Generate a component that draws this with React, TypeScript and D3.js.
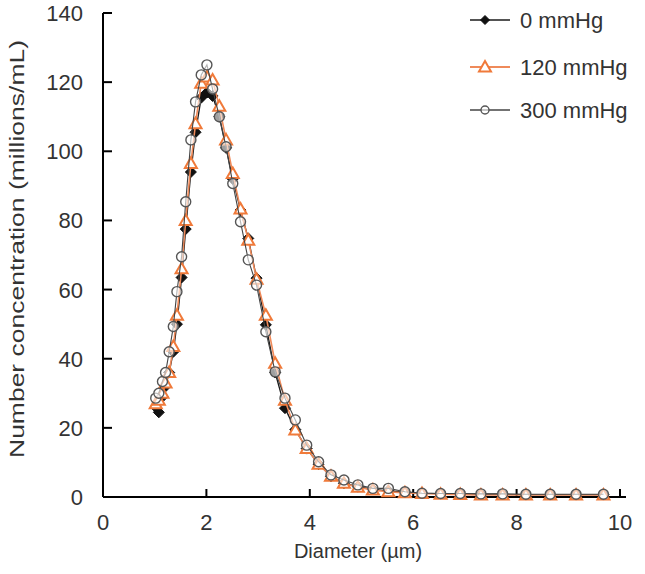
import React from "react";
import * as d3 from "d3";

const diameters = [1.02,1.08,1.15,1.21,1.28,1.36,1.43,1.52,1.60,1.70,1.79,1.90,2.01,2.12,2.25,2.38,2.51,2.66,2.81,2.97,3.15,3.33,3.52,3.72,3.94,4.17,4.41,4.66,4.93,5.22,5.52,5.84,6.17,6.53,6.91,7.31,7.73,8.18,8.65,9.15,9.68];
const p0 = [26,24.5,29,32,36,42,50,63.5,77.5,94,105.5,115.5,117,116,110,101,92,83,74.8,63.3,49.8,36,25.7,19.5,14,9.5,6,4,3,2.2,1.8,1.4,1.1,1,0.9,0.8,0.8,0.7,0.7,0.7,0.7];
const p120 = [27,28,30,33,36,43.5,52.6,66,80,96.5,108,119.7,121.5,120.6,113,103.3,93.6,83.3,74.3,63,52.6,38.7,28,19.4,14,9.5,6,4,2.8,2,1.5,1.2,1,0.8,0.7,0.6,0.6,0.6,0.6,0.6,0.6];
const p300 = [28.6,30,33.4,36,42,49.3,59.4,69.5,85.4,103.3,114.3,122.1,125,118,110,101.3,90.7,79.6,68.6,61.3,47.8,36.2,28.6,22.3,15,10.2,6.4,4.9,3.5,2.5,2.5,1.5,1.1,1,1,0.9,0.9,0.8,0.8,0.8,0.8];
const seriesNames = ["0 mmHg", "120 mmHg", "300 mmHg"];
const xTicks = [0, 2, 4, 6, 8, 10];
const yTicks = [0, 20, 40, 60, 80, 100, 120, 140];

const FONT = "'Liberation Sans', Arial, sans-serif";

export default function App() {
  const x = d3.scaleLinear().domain([0, 10]).range([103, 620]);
  const y = d3.scaleLinear().domain([0, 140]).range([497, 13]);
  const line = d3.line<number>().x((_, i) => x(diameters[i])).y((v) => y(v));

  const styles = [
    { data: p0, line: "#1a1a1a", width: 1.3 },
    { data: p120, line: "#ef8a5a", width: 1.6 },
    { data: p300, line: "#444", width: 1.1 },
  ];

  const marker = (k: number, cx: number, cy: number, key: string, small = false) => {
    if (k === 0) {
      const s = small ? 4.5 : 5.5;
      return <path key={key} d={`M${cx},${cy - s}L${cx + s},${cy}L${cx},${cy + s}L${cx - s},${cy}Z`} fill="#111" stroke="#111" strokeWidth={1} />;
    }
    if (k === 1) {
      const s = 6;
      return <path key={key} d={`M${cx},${cy - s}L${cx + s},${cy + s * 0.75}L${cx - s},${cy + s * 0.75}Z`} fill="#fff" stroke="#f07a3a" strokeWidth={2} />;
    }
    return <circle key={key} cx={cx} cy={cy} r={small ? 4 : 5} fill="#fff" fillOpacity={0.6} stroke="#555" strokeWidth={1.4} />;
  };

  const legendY = [20, 67, 110];

  return (
    <svg width={645} height={574} style={{ position: "absolute", left: 0, top: 0, background: "#fff" }}>
      <line x1={103} y1={y(0)} x2={626} y2={y(0)} stroke="#000" strokeWidth={2} />
      <line x1={103} y1={y(0)} x2={103} y2={y(140)} stroke="#000" strokeWidth={2} />
      {yTicks.map((t) => (
        <g key={"y" + t}>
          <line x1={103} x2={112} y1={y(t)} y2={y(t)} stroke="#000" strokeWidth={2} />
          <text x={83} y={y(t) + 8} textAnchor="end" fontFamily={FONT} fontSize={22} fill="#333">{t}</text>
        </g>
      ))}
      {xTicks.map((t) => (
        <g key={"x" + t}>
          <line x1={x(t)} x2={x(t)} y1={y(0)} y2={y(0) - 8} stroke="#000" strokeWidth={2} />
          <text x={x(t)} y={530} textAnchor="middle" fontFamily={FONT} fontSize={22} fill="#333">{t}</text>
        </g>
      ))}
      <text x={358} y={558} textAnchor="middle" fontFamily={FONT} fontSize={20} fill="#333">Diameter (µm)</text>
      <text transform={`translate(24,249) rotate(-90)`} textAnchor="middle" fontFamily={FONT} fontSize={21} fill="#333" textLength={418} lengthAdjust="spacingAndGlyphs">Number concentration (millions/mL)</text>

      {styles.map((s, k) => (
        <g key={"s" + k}>
          <path d={line(s.data) || ""} fill="none" stroke={s.line} strokeWidth={s.width} />
          {s.data.map((v, i) => marker(k, x(diameters[i]), y(v), `m${k}-${i}`))}
        </g>
      ))}

      {seriesNames.map((n, k) => (
        <g key={"l" + k}>
          <line x1={470} x2={510} y1={legendY[k]} y2={legendY[k]} stroke={styles[k].line} strokeWidth={styles[k].width + 0.4} />
          {marker(k, 485, legendY[k], "lm" + k, true)}
          <text x={520} y={legendY[k] + 8} fontFamily={FONT} fontSize={22} fill="#333">{n}</text>
        </g>
      ))}
    </svg>
  );
}
